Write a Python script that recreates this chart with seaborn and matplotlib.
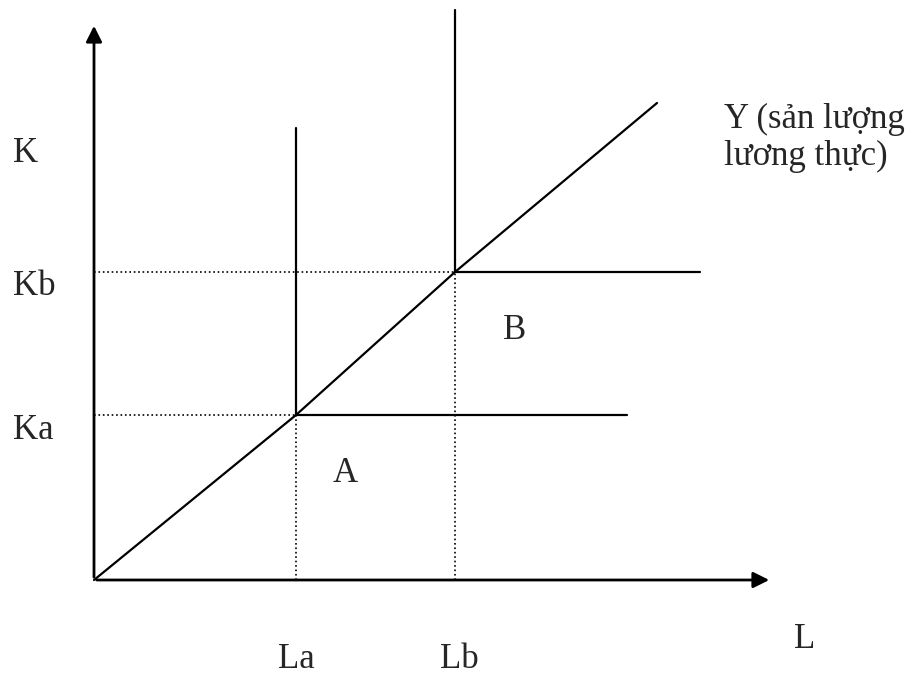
import matplotlib
matplotlib.use("Agg")
import matplotlib.pyplot as plt
import seaborn as sns
import pandas as pd

# Giá trị (gốc toạ độ = 0)
La, Lb = 202, 361
Ka, Kb = 165, 308
L_max, K_max = 666, 545
# đường Y (sản lượng lương thực), đi qua hai góc A và B
y_line_L = [0, La, Lb, 563]
y_line_K = [0, Ka, Kb, 477]
# đường đồng lượng A và B (đỉnh góc)
iso_a_L = [La, La, 533]
iso_a_K = [452, Ka, Ka]
iso_b_L = [Lb, Lb, 606]
iso_b_K = [570, Kb, Kb]

sns.set_theme(style="white")
plt.rcParams["font.family"] = ["Liberation Serif", "DejaVu Serif"]

fig = plt.figure(figsize=(9.17, 6.85), dpi=100)
ax = fig.add_axes([0, 0, 1, 1])

# đường chấm chấm
ax.hlines([Ka, Kb], 0, [La, Lb], colors="black", linestyles=":", linewidth=1.2)
ax.vlines([La, Lb], 0, [Ka, Kb], colors="black", linestyles=":", linewidth=1.2)

# các đường liền (không gộp, không khoảng tin cậy)
for xs, ys in [(y_line_L, y_line_K), (iso_a_L, iso_a_K), (iso_b_L, iso_b_K)]:
    d = pd.DataFrame({"L": xs, "K": ys})
    sns.lineplot(data=d, x="L", y="K", ax=ax, color="black", linewidth=1.6,
                 sort=False, estimator=None, errorbar=None)

# trục toạ độ có mũi tên
ax.annotate("", xy=(L_max + 12, 0), xytext=(0, 0),
            arrowprops=dict(arrowstyle="-|>", color="black", lw=2, mutation_scale=24))
ax.annotate("", xy=(0, K_max + 12), xytext=(0, 0),
            arrowprops=dict(arrowstyle="-|>", color="black", lw=2, mutation_scale=24))

ax.set_xlim(-94, 823)
ax.set_ylim(-105, 580)
ax.axis("off")

fs = 25
ax.text(-81, 427, "K", fontsize=fs, ha="left", va="center")
ax.text(-81, Kb - 14, "Kb", fontsize=fs, ha="left", va="center")
ax.text(-81, Ka - 15, "Ka", fontsize=fs, ha="left", va="center")
ax.text(La, -80, "La", fontsize=fs, ha="center", va="center")
ax.text(Lb + 4, -80, "Lb", fontsize=fs, ha="center", va="center")
ax.text(711, -60, "L", fontsize=fs, ha="center", va="center")
ax.text(251, 107, "A", fontsize=fs, ha="center", va="center")
ax.text(421, 250, "B", fontsize=fs, ha="center", va="center")
ax.text(630, 415, "Y (sản lượng\nlương thực)", fontsize=fs, ha="left", va="baseline",
        linespacing=1.15)

fig.savefig("out.png", dpi=100)
